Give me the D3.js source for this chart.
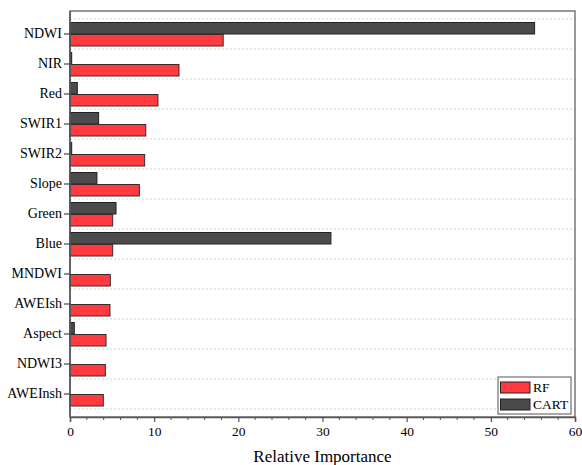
<!DOCTYPE html>
<html>
<head>
<meta charset="utf-8">
<script src="https://cdn.jsdelivr.net/npm/d3@7"></script>
<style>
  html, body { margin: 0; padding: 0; background: #fff; }
  svg { display: block; font-family: "Liberation Serif", "Times New Roman", serif; }
</style>
</head>
<body>
<svg id="chart" width="582" height="465"></svg>
<script>
// Feature importance of the two classifiers
const features = ["NDWI", "NIR", "Red", "SWIR1", "SWIR2", "Slope", "Green", "Blue", "MNDWI", "AWEIsh", "Aspect", "NDWI3", "AWEInsh"];
const rfValues   = [18.2, 12.95, 10.45, 9.0, 8.87, 8.24, 5.07, 5.07, 4.79, 4.75, 4.28, 4.2, 3.96];
const cartValues = [55.2, 0.2, 0.87, 3.4, 0.2, 3.2, 5.47, 31.0, 0, 0, 0.51, 0, 0];
const xTicks = [0, 10, 20, 30, 40, 50, 60];
const seriesNames = ["RF", "CART"];
const seriesColors = ["#ff3a40", "#4b4b4b"];

const serif = "'Liberation Serif', 'Times New Roman', serif";
const svg = d3.select("#chart");
const plot = { left: 70, right: 575, top: 11, bottom: 417 };

const x = d3.scaleLinear().domain([0, 60]).range([plot.left, plot.right]);
const y = d3.scaleBand().domain(features).range([plot.top + 8, plot.bottom - 8]);
const barH = 11.5;

// horizontal dotted separators between categories
const bounds = features.map(f => y(f)).concat([y(features[features.length - 1]) + y.bandwidth()]);
svg.append("g").selectAll("line").data(bounds).join("line")
  .attr("x1", plot.left).attr("x2", plot.right)
  .attr("y1", d => d).attr("y2", d => d)
  .attr("stroke", "#d4d4d4").attr("stroke-width", 1).attr("stroke-dasharray", "2,2");

// CART bars (upper half of each band)
svg.append("g").selectAll("rect").data(features).join("rect")
  .attr("x", x(0))
  .attr("y", f => y(f) + y.bandwidth() / 2 - barH)
  .attr("width", (f, i) => Math.max(0, x(cartValues[i]) - x(0)))
  .attr("height", barH)
  .attr("fill", seriesColors[1])
  .attr("stroke", "#222").attr("stroke-width", 1)
  .style("display", (f, i) => cartValues[i] > 0 ? null : "none");

// RF bars (lower half of each band)
svg.append("g").selectAll("rect").data(features).join("rect")
  .attr("x", x(0))
  .attr("y", f => y(f) + y.bandwidth() / 2 + 0.5)
  .attr("width", (f, i) => x(rfValues[i]) - x(0))
  .attr("height", barH)
  .attr("fill", seriesColors[0])
  .attr("stroke", "#3a2a2a").attr("stroke-width", 1);

// frame
svg.append("rect")
  .attr("x", plot.left).attr("y", plot.top)
  .attr("width", plot.right - plot.left).attr("height", plot.bottom - plot.top)
  .attr("fill", "none").attr("stroke", "#555").attr("stroke-width", 1.2);

// bottom axis: major ticks every 10, minor every 2
const xAxis = d3.axisBottom(x).tickValues(xTicks).tickSize(5).tickPadding(4).tickFormat(d3.format("d"));
const gx = svg.append("g").attr("transform", `translate(0,${plot.bottom})`).call(xAxis);
gx.attr("font-family", serif);
gx.select(".domain").attr("stroke", "#555").attr("stroke-width", 1.5);
gx.selectAll(".tick line").attr("stroke", "#555").attr("stroke-width", 1.2);
gx.selectAll("text").attr("font-size", 13.5).attr("fill", "#000");
const minor = d3.range(0, 61, 2).filter(v => v % 10 !== 0);
gx.append("g").selectAll("line").data(minor).join("line")
  .attr("x1", d => x(d)).attr("x2", d => x(d))
  .attr("y1", 0).attr("y2", 3)
  .attr("stroke", "#555").attr("stroke-width", 1);

// left axis
const yAxis = d3.axisLeft(y).tickSize(6).tickPadding(2);
const gy = svg.append("g").attr("transform", `translate(${plot.left},0)`).call(yAxis);
gy.attr("font-family", serif);
gy.select(".domain").attr("d", `M0,${plot.top}V${plot.bottom}`).attr("stroke", "#555").attr("stroke-width", 1.5);
gy.selectAll(".tick line").attr("stroke", "#444").attr("stroke-width", 1.2);
gy.selectAll("text").attr("font-size", 14).attr("fill", "#000");

// axis title
svg.append("text")
  .attr("x", (plot.left + plot.right) / 2).attr("y", 462)
  .attr("text-anchor", "middle").attr("font-size", 17).attr("fill", "#000")
  .attr("font-family", serif)
  .text("Relative Importance");

// legend
const lg = svg.append("g").attr("transform", "translate(498,377)").attr("font-family", serif);
lg.append("rect").attr("width", 73).attr("height", 37)
  .attr("fill", "#fff").attr("stroke", "#555").attr("stroke-width", 1);
seriesNames.forEach((name, i) => {
  lg.append("rect").attr("x", 2.5).attr("y", 5 + i * 17)
    .attr("width", 29.5).attr("height", 11)
    .attr("fill", seriesColors[i]).attr("stroke", "#222").attr("stroke-width", 1);
  lg.append("text").attr("x", 35).attr("y", 15 + i * 17)
    .attr("font-size", 13.5).attr("fill", "#000").text(name);
});
</script>
</body>
</html>
